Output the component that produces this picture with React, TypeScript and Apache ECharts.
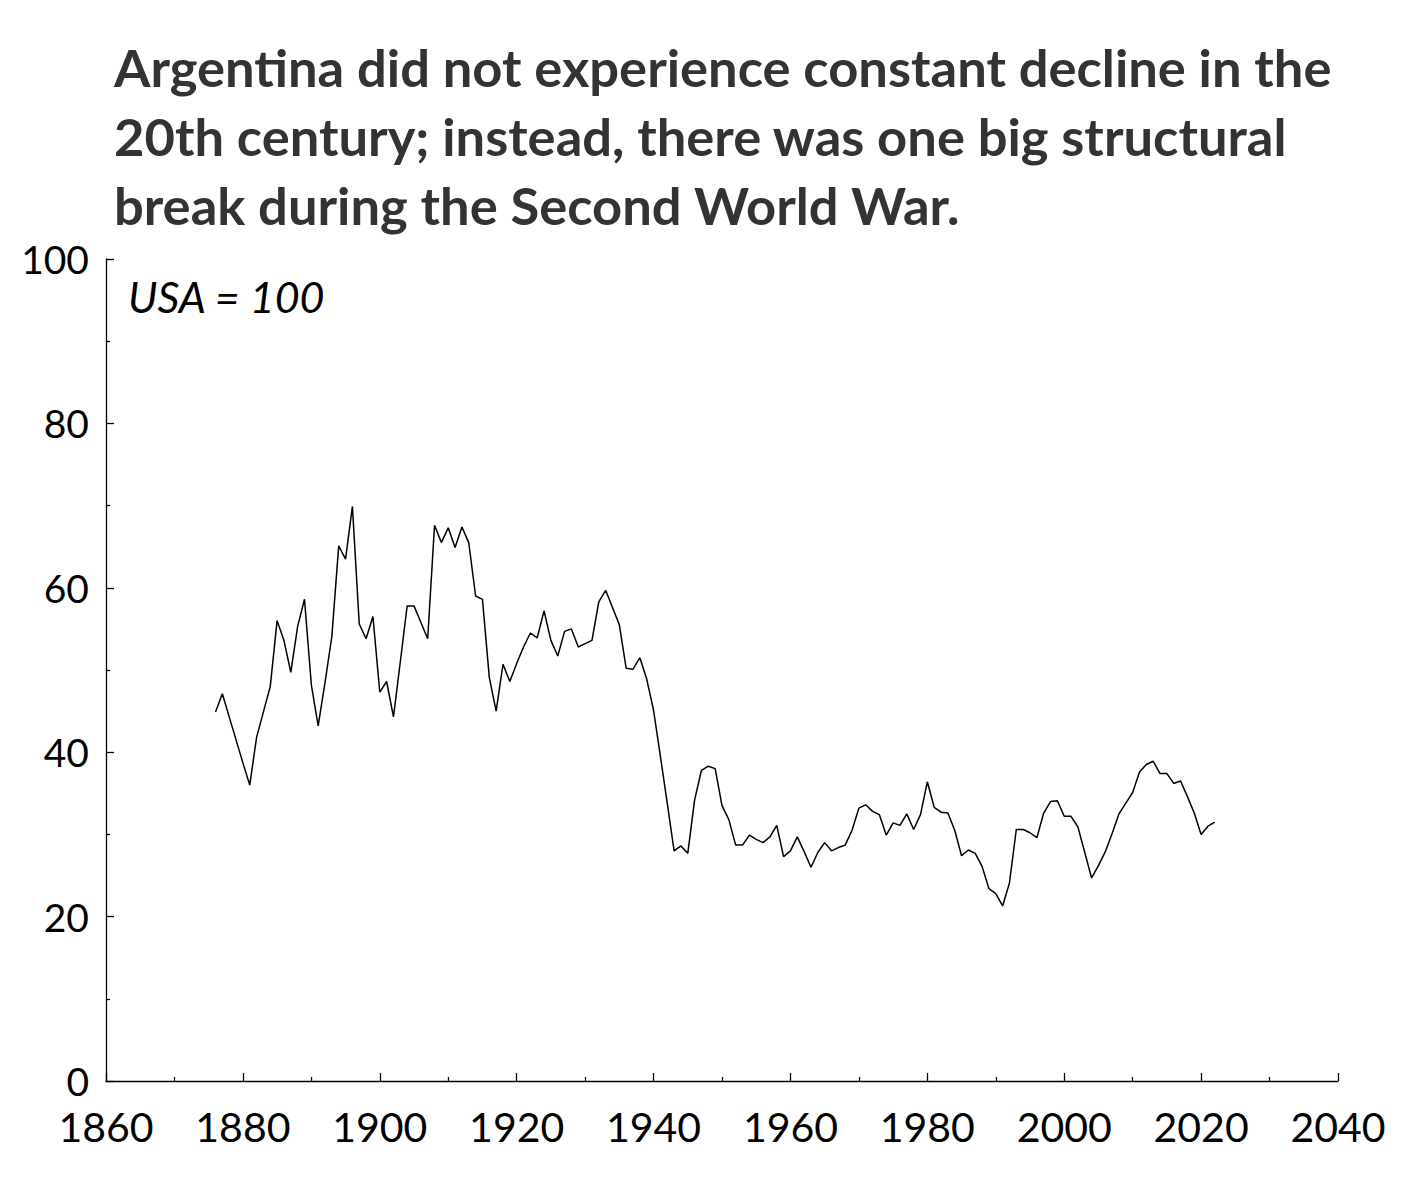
import React, { useEffect, useRef } from "react";
import * as echarts from "echarts";

const TITLE_LINES = [
  "Argentina did not experience constant decline in the",
  "20th century; instead, there was one big structural",
  "break during the Second World War.",
];
const UNIT_LABEL = "USA = 100";

const START_YEAR = 1876;
const VALUES = [
  44.9, 47.1, 44.3, 41.5, 38.7, 36.0, 41.8, 44.9, 48.0, 56.0,
  53.6, 49.7, 55.3, 58.6, 48.2, 43.2, 48.5, 54.1, 65.1, 63.5,
  69.9, 55.6, 53.8, 56.5, 47.3, 48.6, 44.3, 51.0, 57.8, 57.8,
  55.8, 53.8, 67.6, 65.5, 67.3, 64.9, 67.4, 65.5, 59.0, 58.6,
  49.1, 45.0, 50.7, 48.6, 50.8, 52.8, 54.5, 53.9, 57.2, 53.6,
  51.7, 54.7, 55.0, 52.8, 53.2, 53.6, 58.3, 59.7, 57.6, 55.5,
  50.2, 50.1, 51.5, 48.9, 45.1, 39.5, 33.8, 28.0, 28.6, 27.7,
  34.2, 37.8, 38.3, 38.0, 33.5, 31.8, 28.7, 28.7, 29.9, 29.4,
  29.0, 29.7, 31.1, 27.3, 28.0, 29.7, 27.9, 26.0, 27.8, 29.0,
  28.0, 28.4, 28.7, 30.5, 33.2, 33.6, 32.8, 32.4, 29.9, 31.4,
  31.1, 32.5, 30.6, 32.4, 36.4, 33.3, 32.7, 32.6, 30.5, 27.4,
  28.1, 27.7, 26.1, 23.4, 22.8, 21.3, 24.1, 30.6, 30.6, 30.2,
  29.6, 32.6, 34.0, 34.1, 32.2, 32.2, 30.9, 27.8, 24.7, 26.2,
  27.9, 30.1, 32.5, 33.8, 35.1, 37.6, 38.5, 38.9, 37.4, 37.4,
  36.2, 36.5, 34.6, 32.6, 30.0, 31.0, 31.5,
];
const YEARS = VALUES.map((_, i) => START_YEAR + i);

const X_MIN = 1860;
const X_MAX = 2040;
const X_STEP = 20;
const Y_MIN = 0;
const Y_MAX = 100;
const Y_STEP = 20;

const FONT = "Lato, 'Noto Sans', sans-serif";

export default function App() {
  const ref = useRef<HTMLDivElement>(null);
  useEffect(() => {
    if (!ref.current) return;
    const chart = echarts.init(ref.current, null, { renderer: "svg" });
    const axisCommon = {
      axisLine: { show: true, lineStyle: { color: "#000", width: 1.3 } },
      axisTick: { show: true, inside: true, length: 8, lineStyle: { color: "#000", width: 1.3 } },
      minorTick: { show: true, splitNumber: 2, length: 4, lineStyle: { color: "#000", width: 1.3 } },
      splitLine: { show: false },
      minorSplitLine: { show: false },
    };
    chart.setOption({
      animation: false,
      backgroundColor: "#fff",
      title: {
        text: TITLE_LINES.join("\n"),
        left: 109,
        top: 27,
        textStyle: {
          fontFamily: FONT,
          fontWeight: "bold",
          fontSize: 52.5,
          lineHeight: 69,
          color: "#333333",
        },
      },
      graphic: [
        {
          type: "text",
          left: 128,
          top: 275,
          style: {
            text: UNIT_LABEL,
            fontFamily: FONT,
            fontStyle: "italic",
            fontSize: 43,
            fill: "#000",
          },
        },
      ],
      grid: { left: 106, right: 71, top: 259, bottom: 109, containLabel: false },
      xAxis: {
        type: "value",
        min: X_MIN,
        max: X_MAX,
        interval: X_STEP,
        ...axisCommon,
        axisLabel: {
          margin: 29,
          fontFamily: FONT,
          fontSize: 41,
          lineHeight: 32,
          color: "#000",
          formatter: (v: number) => String(v),
        },
      },
      yAxis: {
        type: "value",
        min: Y_MIN,
        max: Y_MAX,
        interval: Y_STEP,
        ...axisCommon,
        axisLabel: {
          margin: 17,
          fontFamily: FONT,
          fontSize: 39,
          lineHeight: 30,
          color: "#000",
        },
      },
      series: [
        {
          type: "line",
          data: YEARS.map((y, i) => [y, VALUES[i]]),
          showSymbol: false,
          symbol: "none",
          lineStyle: { color: "#000", width: 1.5 },
        },
      ],
    });
    return () => chart.dispose();
  }, []);
  return (
    <div
      ref={ref}
      style={{ position: "fixed", left: 0, top: 0, width: 1409, height: 1190 }}
    />
  );
}
